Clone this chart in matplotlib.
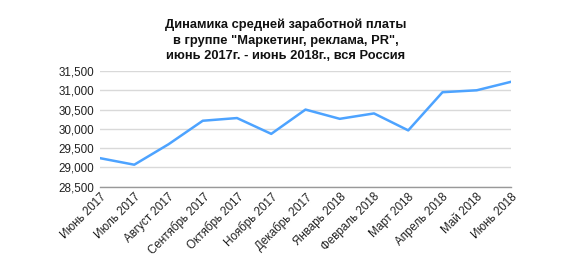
import matplotlib
matplotlib.use("Agg")
import matplotlib.pyplot as plt
from matplotlib.ticker import FuncFormatter

months = ["Июнь 2017", "Июль 2017", "Август 2017", "Сентябрь 2017", "Октябрь 2017",
          "Ноябрь 2017", "Декабрь 2017", "Январь 2018", "Февраль 2018", "Март 2018",
          "Апрель 2018", "Май 2018", "Июнь 2018"]
salary = [29240, 29070, 29600, 30210, 30280, 29870, 30500, 30260, 30400, 29960,
          30950, 31000, 31220]
yticks = [28500, 29000, 29500, 30000, 30500, 31000, 31500]
title = 'Динамика средней заработной платы\nв группе "Маркетинг, реклама, PR",\nиюнь 2017г. - июнь 2018г., вся Россия'

plt.rcParams['font.family'] = ['Liberation Sans', 'DejaVu Sans']

fig = plt.figure(figsize=(5.83, 2.73), dpi=100)
ax = fig.add_axes([100/583, 1-186.7/273, (511-100)/583, (186.7-71)/273])

x = list(range(len(months)))
ax.plot(x, salary, color='#4da3ff', linewidth=1.8, solid_joinstyle='round')
ax.set_xlim(0, len(months)-1)
ax.set_ylim(28500, 31500)
ax.set_yticks(yticks)
ax.yaxis.set_major_formatter(FuncFormatter(lambda v, p: f"{int(v):,}"))
ax.set_xticks(x)
ax.set_xticklabels(months, rotation=45, ha='right', va='top', rotation_mode='anchor')
ax.tick_params(axis='both', length=0, labelsize=8.4, colors='#222222')
ax.tick_params(axis='x', pad=3)
ax.tick_params(axis='y', pad=4)
ax.grid(axis='y', color='#d9d9d9', linewidth=1)
ax.set_axisbelow(True)
for s in ['top', 'right', 'left']:
    ax.spines[s].set_visible(False)
ax.spines['bottom'].set_color('#999999')
ax.spines['bottom'].set_linewidth(1)

fig.text(286/583, 1-40/273, title, ha='center', va='center', fontsize=9.3,
         fontweight='bold', linespacing=1.35, color='#111111')

fig.savefig('out.png', dpi=100)
